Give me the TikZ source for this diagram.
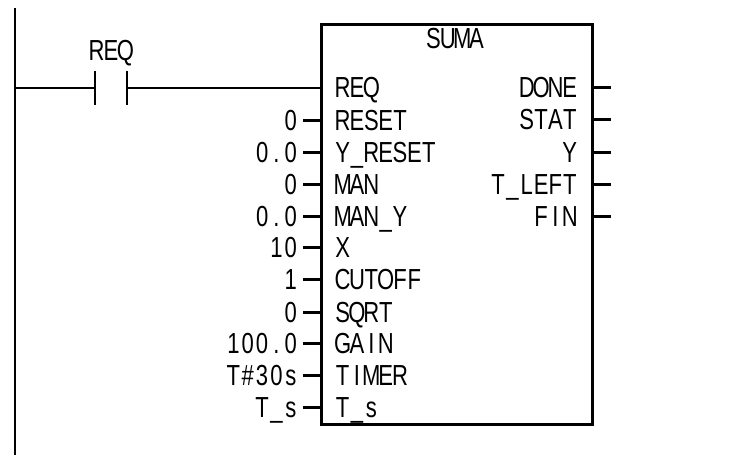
\documentclass[tikz,border=0pt]{standalone}
\usepackage{fontspec}
\setmainfont[FakeStretch=0.76]{Liberation Sans}
\makeatletter
\newcommand\mn[1]{\@tfor\mnc:=#1\do{\makebox[14.35pt]{\mnc}}}
\newcommand\mnx[1]{\expandafter\mn\expandafter{#1}}
\makeatother
\tikzset{
  lbl/.style={inner sep=0pt,outer sep=0pt,anchor=base,font=\fontsize{29}{29}\selectfont,text=black},
  lblL/.style={lbl,anchor=base west},
  lblR/.style={lbl,anchor=base east},
  stub/.style={line width=3pt,black},
  wire/.style={line width=2pt,black},
  fb/.style={line width=3pt,black}
}
\begin{document}
\begin{tikzpicture}[x=1pt,y=-1pt]
\useasboundingbox (0,0) rectangle (738,455);
% power rail
\coordinate (railT) at (15,8);
\coordinate (railB) at (15,455);
\draw[line width=2.4pt] (railT) -- (railB);
% function block
\coordinate (bTL) at (321,24);
\coordinate (bBR) at (592,424);
\draw[fb] (bTL) rectangle (bBR);
\node[lbl] (title) at (455,48) {\mn{SUMA}};
% contact
\coordinate (c1T) at (95,71);
\coordinate (c1B) at (95,105);
\coordinate (c2T) at (127,71);
\coordinate (c2B) at (127,105);
\coordinate (c1) at (95,88);
\coordinate (c2) at (127,88);
\coordinate (railR) at (15,88);
\coordinate (blockR) at (321,88);
\draw[wire] (c1T) -- (c1B);
\draw[wire] (c2T) -- (c2B);
\draw[wire] (railR) -- (c1);
\draw[wire] (c2) -- (blockR);
\node[lbl] (reqc) at (111,60) {\mn{REQ}};
% inputs
\node[lblL] (iReq) at (335.5,97.5) {\mn{REQ}};
\foreach \nm/\yy/\val/\pin in {
  a/120/0/RESET,
  b/152/0.0/Y\_RESET,
  c/184/0/MAN,
  d/216/0.0/MAN\_Y,
  e/247.5/10/X,
  f/279.5/1/CUTOFF,
  g/312/0/SQRT,
  h/343.5/100.0/GAIN,
  i/375.5/T\#30s/TIMER,
  j/407.5/T\_s/T\_s}{
  \node[lblL] (pin\nm) at (335.5,\yy+10) {\mnx{\pin}};
  \node[lblR] (val\nm) at (298,\yy+10) {\mnx{\val}};
  \coordinate (s\nm) at (303,\yy);
  \coordinate (t\nm) at (321,\yy);
  \draw[stub] (s\nm) -- (t\nm);
}
% outputs
\foreach \nm/\yy/\pin in {
  k/87.5/DONE,
  l/119.5/STAT,
  m/152/Y,
  n/184/T\_LEFT,
  o/216/FIN}{
  \node[lblR] (pin\nm) at (577,\yy+10) {\mnx{\pin}};
  \coordinate (s\nm) at (592,\yy);
  \coordinate (t\nm) at (611,\yy);
  \draw[stub] (s\nm) -- (t\nm);
}
\end{tikzpicture}
\end{document}
